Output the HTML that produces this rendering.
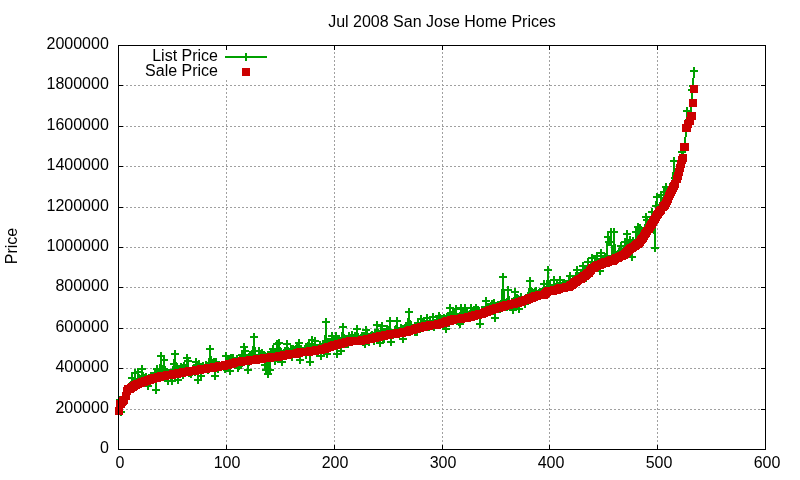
<!DOCTYPE html><html><head><meta charset="utf-8"><style>html,body{margin:0;padding:0;background:#fff;width:800px;height:480px;overflow:hidden;position:relative}svg{display:block;position:absolute;left:0;top:0}div{white-space:nowrap;color:#000;will-change:transform}</style></head><body>
<svg width="800" height="480" viewBox="0 0 800 480" shape-rendering="crispEdges">
<path d="M118,409.5H765M118,368.5H765M118,328.5H765M118,287.5H765M118,247.5H765M118,207.5H765M118,166.5H765M118,126.5H765M118,85.5H765M226.5,450V80M334.5,450V45M442.5,450V45M549.5,450V45M657.5,450V45" stroke="#a0a0a0" stroke-width="1" stroke-dasharray="2,2" fill="none"/>
<path d="M118,449h5v1h-5zM766,449h-5v1h5zM118,409h5v1h-5zM766,409h-5v1h5zM118,368h5v1h-5zM766,368h-5v1h5zM118,328h5v1h-5zM766,328h-5v1h5zM118,287h5v1h-5zM766,287h-5v1h5zM118,247h5v1h-5zM766,247h-5v1h5zM118,207h5v1h-5zM766,207h-5v1h5zM118,166h5v1h-5zM766,166h-5v1h5zM118,126h5v1h-5zM766,126h-5v1h5zM118,85h5v1h-5zM766,85h-5v1h5zM118,45h5v1h-5zM766,45h-5v1h5zM118,450v-5h1v5zM118,45v5h1v-5zM226,450v-5h1v5zM226,45v5h1v-5zM334,450v-5h1v5zM334,45v5h1v-5zM442,450v-5h1v5zM442,45v5h1v-5zM549,450v-5h1v5zM549,45v5h1v-5zM657,450v-5h1v5zM657,45v5h1v-5zM765,450v-5h1v5zM765,45v5h1v-5z" fill="#000"/>
<polyline points="119,411 120,400 121,412 122,402 123,401 124,399 126,395 127,391 128,389 129,388 130,389 131,385 132,378 133,383 134,388 135,373 136,387 137,385 138,372 140,381 141,384 142,369 143,376 144,378 145,379 146,377 147,381 148,386 149,378 150,378 151,376 153,376 154,379 155,374 156,390 157,369 158,376 159,373 160,372 161,356 162,375 163,370 164,360 165,372 167,372 168,381 169,373 170,374 171,377 172,381 173,370 174,364 175,354 176,370 177,369 178,380 179,369 181,367 182,368 183,375 184,366 185,369 186,370 187,358 188,361 189,373 190,371 191,374 192,372 193,369 195,372 196,362 197,365 198,380 199,364 200,369 201,376 202,367 203,366 204,368 205,368 206,365 208,370 209,367 210,349 211,363 212,363 213,365 214,362 215,376 216,362 217,366 218,369 219,367 220,366 222,366 223,366 224,367 225,369 226,356 227,362 228,364 229,364 230,371 231,358 232,359 233,358 234,363 236,362 237,359 238,368 239,366 240,359 241,359 242,355 243,356 244,347 245,351 246,360 247,359 248,370 250,355 251,360 252,354 253,355 254,337 255,355 256,358 257,359 258,360 259,351 260,357 261,355 262,353 264,355 265,365 266,370 267,357 268,374 269,357 270,370 271,352 272,353 273,349 274,352 275,361 277,344 278,359 279,343 280,351 281,352 282,362 283,354 284,353 285,351 286,352 287,344 288,351 289,355 291,349 292,357 293,349 294,353 295,354 296,349 297,347 298,351 299,343 300,360 301,349 302,351 303,351 305,351 306,355 307,351 308,346 309,344 310,362 311,349 312,340 313,347 314,348 315,341 316,350 317,353 319,349 320,345 321,356 322,348 323,344 324,351 325,348 326,322 327,354 328,343 329,342 330,343 332,336 333,341 334,340 335,341 336,336 337,354 338,339 339,339 340,341 341,351 342,338 343,327 344,340 346,344 347,343 348,344 349,336 350,340 351,338 352,335 353,339 354,340 355,336 356,340 357,329 358,337 360,340 361,338 362,336 363,342 364,336 365,344 366,330 367,334 368,340 369,342 370,338 371,336 372,335 374,341 375,333 376,338 377,325 378,333 379,340 380,343 381,331 382,326 383,339 384,339 385,332 387,329 388,335 389,331 390,321 391,342 392,335 393,335 394,333 395,330 396,330 397,321 398,333 399,333 401,328 402,332 403,339 404,329 405,328 406,326 407,330 408,325 409,312 410,328 411,325 412,329 413,330 415,332 416,328 417,332 418,323 419,327 420,326 421,319 422,326 423,324 424,322 425,324 426,325 427,318 429,327 430,321 431,324 432,326 433,317 434,327 435,325 436,324 437,320 438,320 439,316 440,318 442,323 443,320 444,318 445,326 446,329 447,317 448,316 449,323 450,308 451,315 452,315 453,314 454,314 456,309 457,319 458,320 459,322 460,324 461,308 462,314 463,313 464,316 465,308 466,313 467,313 468,315 470,314 471,308 472,317 473,313 474,310 475,311 476,308 477,310 478,310 479,311 480,324 481,315 482,310 484,310 485,313 486,301 487,307 488,308 489,307 490,308 491,307 492,304 493,311 494,303 495,318 496,308 498,305 499,306 500,309 501,304 502,302 503,277 504,301 505,303 506,303 507,307 508,290 509,301 511,306 512,302 513,310 514,307 515,292 516,300 517,298 518,299 519,309 520,301 521,297 522,300 523,301 525,304 526,298 527,299 528,296 529,296 530,281 531,293 532,292 533,293 534,294 535,292 536,291 537,296 539,293 540,292 541,293 542,292 543,291 544,284 545,290 546,293 547,290 548,270 549,288 550,285 551,290 553,290 554,280 555,290 556,290 557,284 558,286 559,288 560,280 561,287 562,289 563,285 564,283 566,284 567,287 568,286 569,281 570,276 571,283 572,287 573,280 574,281 575,280 576,276 577,270 578,277 580,280 581,274 582,273 583,266 584,271 585,271 586,278 587,272 588,262 589,269 590,272 591,265 592,258 594,268 595,263 596,266 597,256 598,263 599,264 600,271 601,253 602,259 603,259 604,262 605,257 606,263 608,237 609,242 610,242 611,232 612,256 613,260 614,232 615,254 616,258 617,257 618,254 619,252 621,246 622,252 623,252 624,251 625,242 626,251 627,234 628,249 629,247 630,240 631,247 632,257 633,241 635,247 636,232 637,242 638,227 639,243 640,228 641,242 642,233 643,232 644,232 645,232 646,217 647,220 649,226 650,223 651,225 652,212 653,222 654,219 655,248 656,206 657,197 658,211 659,209 660,209 661,195 663,203 664,192 665,206 666,187 667,199 668,198 669,194 670,192 671,189 672,190 673,184 674,161 675,178 677,178 678,172 679,170 680,167 681,167 682,152 683,157 684,147 685,146 686,128 687,111 688,122 690,118 691,116 692,90 693,86 694,71" fill="none" stroke="#00a000" stroke-width="2" stroke-linejoin="miter"/>
<path d="M115,411h8M119,407v8M116,400h8M120,396v8M117,412h8M121,408v8M118,402h8M122,398v8M119,401h8M123,397v8M120,399h8M124,395v8M122,395h8M126,391v8M123,391h8M127,387v8M124,389h8M128,385v8M125,388h8M129,384v8M126,389h8M130,385v8M127,385h8M131,381v8M128,378h8M132,374v8M129,383h8M133,379v8M130,388h8M134,384v8M131,373h8M135,369v8M132,387h8M136,383v8M133,385h8M137,381v8M134,372h8M138,368v8M136,381h8M140,377v8M137,384h8M141,380v8M138,369h8M142,365v8M139,376h8M143,372v8M140,378h8M144,374v8M141,379h8M145,375v8M142,377h8M146,373v8M143,381h8M147,377v8M144,386h8M148,382v8M145,378h8M149,374v8M146,378h8M150,374v8M147,376h8M151,372v8M149,376h8M153,372v8M150,379h8M154,375v8M151,374h8M155,370v8M152,390h8M156,386v8M153,369h8M157,365v8M154,376h8M158,372v8M155,373h8M159,369v8M156,372h8M160,368v8M157,356h8M161,352v8M158,375h8M162,371v8M159,370h8M163,366v8M160,360h8M164,356v8M161,372h8M165,368v8M163,372h8M167,368v8M164,381h8M168,377v8M165,373h8M169,369v8M166,374h8M170,370v8M167,377h8M171,373v8M168,381h8M172,377v8M169,370h8M173,366v8M170,364h8M174,360v8M171,354h8M175,350v8M172,370h8M176,366v8M173,369h8M177,365v8M174,380h8M178,376v8M175,369h8M179,365v8M177,367h8M181,363v8M178,368h8M182,364v8M179,375h8M183,371v8M180,366h8M184,362v8M181,369h8M185,365v8M182,370h8M186,366v8M183,358h8M187,354v8M184,361h8M188,357v8M185,373h8M189,369v8M186,371h8M190,367v8M187,374h8M191,370v8M188,372h8M192,368v8M189,369h8M193,365v8M191,372h8M195,368v8M192,362h8M196,358v8M193,365h8M197,361v8M194,380h8M198,376v8M195,364h8M199,360v8M196,369h8M200,365v8M197,376h8M201,372v8M198,367h8M202,363v8M199,366h8M203,362v8M200,368h8M204,364v8M201,368h8M205,364v8M202,365h8M206,361v8M204,370h8M208,366v8M205,367h8M209,363v8M206,349h8M210,345v8M207,363h8M211,359v8M208,363h8M212,359v8M209,365h8M213,361v8M210,362h8M214,358v8M211,376h8M215,372v8M212,362h8M216,358v8M213,366h8M217,362v8M214,369h8M218,365v8M215,367h8M219,363v8M216,366h8M220,362v8M218,366h8M222,362v8M219,366h8M223,362v8M220,367h8M224,363v8M221,369h8M225,365v8M222,356h8M226,352v8M223,362h8M227,358v8M224,364h8M228,360v8M225,364h8M229,360v8M226,371h8M230,367v8M227,358h8M231,354v8M228,359h8M232,355v8M229,358h8M233,354v8M230,363h8M234,359v8M232,362h8M236,358v8M233,359h8M237,355v8M234,368h8M238,364v8M235,366h8M239,362v8M236,359h8M240,355v8M237,359h8M241,355v8M238,355h8M242,351v8M239,356h8M243,352v8M240,347h8M244,343v8M241,351h8M245,347v8M242,360h8M246,356v8M243,359h8M247,355v8M244,370h8M248,366v8M246,355h8M250,351v8M247,360h8M251,356v8M248,354h8M252,350v8M249,355h8M253,351v8M250,337h8M254,333v8M251,355h8M255,351v8M252,358h8M256,354v8M253,359h8M257,355v8M254,360h8M258,356v8M255,351h8M259,347v8M256,357h8M260,353v8M257,355h8M261,351v8M258,353h8M262,349v8M260,355h8M264,351v8M261,365h8M265,361v8M262,370h8M266,366v8M263,357h8M267,353v8M264,374h8M268,370v8M265,357h8M269,353v8M266,370h8M270,366v8M267,352h8M271,348v8M268,353h8M272,349v8M269,349h8M273,345v8M270,352h8M274,348v8M271,361h8M275,357v8M273,344h8M277,340v8M274,359h8M278,355v8M275,343h8M279,339v8M276,351h8M280,347v8M277,352h8M281,348v8M278,362h8M282,358v8M279,354h8M283,350v8M280,353h8M284,349v8M281,351h8M285,347v8M282,352h8M286,348v8M283,344h8M287,340v8M284,351h8M288,347v8M285,355h8M289,351v8M287,349h8M291,345v8M288,357h8M292,353v8M289,349h8M293,345v8M290,353h8M294,349v8M291,354h8M295,350v8M292,349h8M296,345v8M293,347h8M297,343v8M294,351h8M298,347v8M295,343h8M299,339v8M296,360h8M300,356v8M297,349h8M301,345v8M298,351h8M302,347v8M299,351h8M303,347v8M301,351h8M305,347v8M302,355h8M306,351v8M303,351h8M307,347v8M304,346h8M308,342v8M305,344h8M309,340v8M306,362h8M310,358v8M307,349h8M311,345v8M308,340h8M312,336v8M309,347h8M313,343v8M310,348h8M314,344v8M311,341h8M315,337v8M312,350h8M316,346v8M313,353h8M317,349v8M315,349h8M319,345v8M316,345h8M320,341v8M317,356h8M321,352v8M318,348h8M322,344v8M319,344h8M323,340v8M320,351h8M324,347v8M321,348h8M325,344v8M322,322h8M326,318v8M323,354h8M327,350v8M324,343h8M328,339v8M325,342h8M329,338v8M326,343h8M330,339v8M328,336h8M332,332v8M329,341h8M333,337v8M330,340h8M334,336v8M331,341h8M335,337v8M332,336h8M336,332v8M333,354h8M337,350v8M334,339h8M338,335v8M335,339h8M339,335v8M336,341h8M340,337v8M337,351h8M341,347v8M338,338h8M342,334v8M339,327h8M343,323v8M340,340h8M344,336v8M342,344h8M346,340v8M343,343h8M347,339v8M344,344h8M348,340v8M345,336h8M349,332v8M346,340h8M350,336v8M347,338h8M351,334v8M348,335h8M352,331v8M349,339h8M353,335v8M350,340h8M354,336v8M351,336h8M355,332v8M352,340h8M356,336v8M353,329h8M357,325v8M354,337h8M358,333v8M356,340h8M360,336v8M357,338h8M361,334v8M358,336h8M362,332v8M359,342h8M363,338v8M360,336h8M364,332v8M361,344h8M365,340v8M362,330h8M366,326v8M363,334h8M367,330v8M364,340h8M368,336v8M365,342h8M369,338v8M366,338h8M370,334v8M367,336h8M371,332v8M368,335h8M372,331v8M370,341h8M374,337v8M371,333h8M375,329v8M372,338h8M376,334v8M373,325h8M377,321v8M374,333h8M378,329v8M375,340h8M379,336v8M376,343h8M380,339v8M377,331h8M381,327v8M378,326h8M382,322v8M379,339h8M383,335v8M380,339h8M384,335v8M381,332h8M385,328v8M383,329h8M387,325v8M384,335h8M388,331v8M385,331h8M389,327v8M386,321h8M390,317v8M387,342h8M391,338v8M388,335h8M392,331v8M389,335h8M393,331v8M390,333h8M394,329v8M391,330h8M395,326v8M392,330h8M396,326v8M393,321h8M397,317v8M394,333h8M398,329v8M395,333h8M399,329v8M397,328h8M401,324v8M398,332h8M402,328v8M399,339h8M403,335v8M400,329h8M404,325v8M401,328h8M405,324v8M402,326h8M406,322v8M403,330h8M407,326v8M404,325h8M408,321v8M405,312h8M409,308v8M406,328h8M410,324v8M407,325h8M411,321v8M408,329h8M412,325v8M409,330h8M413,326v8M411,332h8M415,328v8M412,328h8M416,324v8M413,332h8M417,328v8M414,323h8M418,319v8M415,327h8M419,323v8M416,326h8M420,322v8M417,319h8M421,315v8M418,326h8M422,322v8M419,324h8M423,320v8M420,322h8M424,318v8M421,324h8M425,320v8M422,325h8M426,321v8M423,318h8M427,314v8M425,327h8M429,323v8M426,321h8M430,317v8M427,324h8M431,320v8M428,326h8M432,322v8M429,317h8M433,313v8M430,327h8M434,323v8M431,325h8M435,321v8M432,324h8M436,320v8M433,320h8M437,316v8M434,320h8M438,316v8M435,316h8M439,312v8M436,318h8M440,314v8M438,323h8M442,319v8M439,320h8M443,316v8M440,318h8M444,314v8M441,326h8M445,322v8M442,329h8M446,325v8M443,317h8M447,313v8M444,316h8M448,312v8M445,323h8M449,319v8M446,308h8M450,304v8M447,315h8M451,311v8M448,315h8M452,311v8M449,314h8M453,310v8M450,314h8M454,310v8M452,309h8M456,305v8M453,319h8M457,315v8M454,320h8M458,316v8M455,322h8M459,318v8M456,324h8M460,320v8M457,308h8M461,304v8M458,314h8M462,310v8M459,313h8M463,309v8M460,316h8M464,312v8M461,308h8M465,304v8M462,313h8M466,309v8M463,313h8M467,309v8M464,315h8M468,311v8M466,314h8M470,310v8M467,308h8M471,304v8M468,317h8M472,313v8M469,313h8M473,309v8M470,310h8M474,306v8M471,311h8M475,307v8M472,308h8M476,304v8M473,310h8M477,306v8M474,310h8M478,306v8M475,311h8M479,307v8M476,324h8M480,320v8M477,315h8M481,311v8M478,310h8M482,306v8M480,310h8M484,306v8M481,313h8M485,309v8M482,301h8M486,297v8M483,307h8M487,303v8M484,308h8M488,304v8M485,307h8M489,303v8M486,308h8M490,304v8M487,307h8M491,303v8M488,304h8M492,300v8M489,311h8M493,307v8M490,303h8M494,299v8M491,318h8M495,314v8M492,308h8M496,304v8M494,305h8M498,301v8M495,306h8M499,302v8M496,309h8M500,305v8M497,304h8M501,300v8M498,302h8M502,298v8M499,277h8M503,273v8M500,301h8M504,297v8M501,303h8M505,299v8M502,303h8M506,299v8M503,307h8M507,303v8M504,290h8M508,286v8M505,301h8M509,297v8M507,306h8M511,302v8M508,302h8M512,298v8M509,310h8M513,306v8M510,307h8M514,303v8M511,292h8M515,288v8M512,300h8M516,296v8M513,298h8M517,294v8M514,299h8M518,295v8M515,309h8M519,305v8M516,301h8M520,297v8M517,297h8M521,293v8M518,300h8M522,296v8M519,301h8M523,297v8M521,304h8M525,300v8M522,298h8M526,294v8M523,299h8M527,295v8M524,296h8M528,292v8M525,296h8M529,292v8M526,281h8M530,277v8M527,293h8M531,289v8M528,292h8M532,288v8M529,293h8M533,289v8M530,294h8M534,290v8M531,292h8M535,288v8M532,291h8M536,287v8M533,296h8M537,292v8M535,293h8M539,289v8M536,292h8M540,288v8M537,293h8M541,289v8M538,292h8M542,288v8M539,291h8M543,287v8M540,284h8M544,280v8M541,290h8M545,286v8M542,293h8M546,289v8M543,290h8M547,286v8M544,270h8M548,266v8M545,288h8M549,284v8M546,285h8M550,281v8M547,290h8M551,286v8M549,290h8M553,286v8M550,280h8M554,276v8M551,290h8M555,286v8M552,290h8M556,286v8M553,284h8M557,280v8M554,286h8M558,282v8M555,288h8M559,284v8M556,280h8M560,276v8M557,287h8M561,283v8M558,289h8M562,285v8M559,285h8M563,281v8M560,283h8M564,279v8M562,284h8M566,280v8M563,287h8M567,283v8M564,286h8M568,282v8M565,281h8M569,277v8M566,276h8M570,272v8M567,283h8M571,279v8M568,287h8M572,283v8M569,280h8M573,276v8M570,281h8M574,277v8M571,280h8M575,276v8M572,276h8M576,272v8M573,270h8M577,266v8M574,277h8M578,273v8M576,280h8M580,276v8M577,274h8M581,270v8M578,273h8M582,269v8M579,266h8M583,262v8M580,271h8M584,267v8M581,271h8M585,267v8M582,278h8M586,274v8M583,272h8M587,268v8M584,262h8M588,258v8M585,269h8M589,265v8M586,272h8M590,268v8M587,265h8M591,261v8M588,258h8M592,254v8M590,268h8M594,264v8M591,263h8M595,259v8M592,266h8M596,262v8M593,256h8M597,252v8M594,263h8M598,259v8M595,264h8M599,260v8M596,271h8M600,267v8M597,253h8M601,249v8M598,259h8M602,255v8M599,259h8M603,255v8M600,262h8M604,258v8M601,257h8M605,253v8M602,263h8M606,259v8M604,237h8M608,233v8M605,242h8M609,238v8M606,242h8M610,238v8M607,232h8M611,228v8M608,256h8M612,252v8M609,260h8M613,256v8M610,232h8M614,228v8M611,254h8M615,250v8M612,258h8M616,254v8M613,257h8M617,253v8M614,254h8M618,250v8M615,252h8M619,248v8M617,246h8M621,242v8M618,252h8M622,248v8M619,252h8M623,248v8M620,251h8M624,247v8M621,242h8M625,238v8M622,251h8M626,247v8M623,234h8M627,230v8M624,249h8M628,245v8M625,247h8M629,243v8M626,240h8M630,236v8M627,247h8M631,243v8M628,257h8M632,253v8M629,241h8M633,237v8M631,247h8M635,243v8M632,232h8M636,228v8M633,242h8M637,238v8M634,227h8M638,223v8M635,243h8M639,239v8M636,228h8M640,224v8M637,242h8M641,238v8M638,233h8M642,229v8M639,232h8M643,228v8M640,232h8M644,228v8M641,232h8M645,228v8M642,217h8M646,213v8M643,220h8M647,216v8M645,226h8M649,222v8M646,223h8M650,219v8M647,225h8M651,221v8M648,212h8M652,208v8M649,222h8M653,218v8M650,219h8M654,215v8M651,248h8M655,244v8M652,206h8M656,202v8M653,197h8M657,193v8M654,211h8M658,207v8M655,209h8M659,205v8M656,209h8M660,205v8M657,195h8M661,191v8M659,203h8M663,199v8M660,192h8M664,188v8M661,206h8M665,202v8M662,187h8M666,183v8M663,199h8M667,195v8M664,198h8M668,194v8M665,194h8M669,190v8M666,192h8M670,188v8M667,189h8M671,185v8M668,190h8M672,186v8M669,184h8M673,180v8M670,161h8M674,157v8M671,178h8M675,174v8M673,178h8M677,174v8M674,172h8M678,168v8M675,170h8M679,166v8M676,167h8M680,163v8M677,167h8M681,163v8M678,152h8M682,148v8M679,157h8M683,153v8M680,147h8M684,143v8M681,146h8M685,142v8M682,128h8M686,124v8M683,111h8M687,107v8M684,122h8M688,118v8M686,118h8M690,114v8M687,116h8M691,112v8M688,90h8M692,86v8M689,86h8M693,82v8M690,71h8M694,67v8" fill="none" stroke="#00a000" stroke-width="2"/>
<path d="M115,407h8v8h-8zM116,400h8v8h-8zM117,400h8v8h-8zM118,398h8v8h-8zM119,397h8v8h-8zM120,396h8v8h-8zM122,392h8v8h-8zM123,387h8v8h-8zM124,385h8v8h-8zM125,385h8v8h-8zM126,385h8v8h-8zM127,384h8v8h-8zM128,383h8v8h-8zM129,383h8v8h-8zM130,382h8v8h-8zM131,381h8v8h-8zM132,381h8v8h-8zM133,380h8v8h-8zM134,380h8v8h-8zM136,379h8v8h-8zM137,379h8v8h-8zM138,378h8v8h-8zM139,378h8v8h-8zM140,378h8v8h-8zM141,377h8v8h-8zM142,377h8v8h-8zM143,377h8v8h-8zM144,376h8v8h-8zM145,376h8v8h-8zM146,376h8v8h-8zM147,375h8v8h-8zM149,375h8v8h-8zM150,374h8v8h-8zM151,374h8v8h-8zM152,374h8v8h-8zM153,374h8v8h-8zM154,373h8v8h-8zM155,373h8v8h-8zM156,373h8v8h-8zM157,372h8v8h-8zM158,372h8v8h-8zM159,372h8v8h-8zM160,372h8v8h-8zM161,372h8v8h-8zM163,371h8v8h-8zM164,371h8v8h-8zM165,371h8v8h-8zM166,371h8v8h-8zM167,371h8v8h-8zM168,371h8v8h-8zM169,370h8v8h-8zM170,370h8v8h-8zM171,370h8v8h-8zM172,370h8v8h-8zM173,370h8v8h-8zM174,369h8v8h-8zM175,369h8v8h-8zM177,369h8v8h-8zM178,369h8v8h-8zM179,368h8v8h-8zM180,368h8v8h-8zM181,368h8v8h-8zM182,368h8v8h-8zM183,368h8v8h-8zM184,368h8v8h-8zM185,367h8v8h-8zM186,367h8v8h-8zM187,367h8v8h-8zM188,367h8v8h-8zM189,367h8v8h-8zM191,367h8v8h-8zM192,366h8v8h-8zM193,366h8v8h-8zM194,366h8v8h-8zM195,366h8v8h-8zM196,366h8v8h-8zM197,365h8v8h-8zM198,365h8v8h-8zM199,365h8v8h-8zM200,365h8v8h-8zM201,365h8v8h-8zM202,365h8v8h-8zM204,364h8v8h-8zM205,364h8v8h-8zM206,364h8v8h-8zM207,364h8v8h-8zM208,364h8v8h-8zM209,364h8v8h-8zM210,363h8v8h-8zM211,363h8v8h-8zM212,363h8v8h-8zM213,363h8v8h-8zM214,363h8v8h-8zM215,362h8v8h-8zM216,362h8v8h-8zM218,362h8v8h-8zM219,362h8v8h-8zM220,362h8v8h-8zM221,361h8v8h-8zM222,361h8v8h-8zM223,361h8v8h-8zM224,361h8v8h-8zM225,360h8v8h-8zM226,360h8v8h-8zM227,360h8v8h-8zM228,360h8v8h-8zM229,359h8v8h-8zM230,359h8v8h-8zM232,358h8v8h-8zM233,358h8v8h-8zM234,358h8v8h-8zM235,358h8v8h-8zM236,358h8v8h-8zM237,358h8v8h-8zM238,357h8v8h-8zM239,357h8v8h-8zM240,357h8v8h-8zM241,357h8v8h-8zM242,357h8v8h-8zM243,357h8v8h-8zM244,357h8v8h-8zM246,356h8v8h-8zM247,356h8v8h-8zM248,356h8v8h-8zM249,356h8v8h-8zM250,356h8v8h-8zM251,356h8v8h-8zM252,356h8v8h-8zM253,355h8v8h-8zM254,355h8v8h-8zM255,355h8v8h-8zM256,355h8v8h-8zM257,355h8v8h-8zM258,355h8v8h-8zM260,354h8v8h-8zM261,354h8v8h-8zM262,354h8v8h-8zM263,354h8v8h-8zM264,354h8v8h-8zM265,354h8v8h-8zM266,354h8v8h-8zM267,353h8v8h-8zM268,353h8v8h-8zM269,353h8v8h-8zM270,353h8v8h-8zM271,353h8v8h-8zM273,353h8v8h-8zM274,353h8v8h-8zM275,352h8v8h-8zM276,352h8v8h-8zM277,352h8v8h-8zM278,352h8v8h-8zM279,352h8v8h-8zM280,351h8v8h-8zM281,351h8v8h-8zM282,351h8v8h-8zM283,351h8v8h-8zM284,351h8v8h-8zM285,350h8v8h-8zM287,350h8v8h-8zM288,350h8v8h-8zM289,350h8v8h-8zM290,350h8v8h-8zM291,350h8v8h-8zM292,350h8v8h-8zM293,349h8v8h-8zM294,349h8v8h-8zM295,349h8v8h-8zM296,348h8v8h-8zM297,348h8v8h-8zM298,348h8v8h-8zM299,348h8v8h-8zM301,348h8v8h-8zM302,348h8v8h-8zM303,348h8v8h-8zM304,348h8v8h-8zM305,348h8v8h-8zM306,347h8v8h-8zM307,347h8v8h-8zM308,347h8v8h-8zM309,347h8v8h-8zM310,347h8v8h-8zM311,347h8v8h-8zM312,346h8v8h-8zM313,346h8v8h-8zM315,346h8v8h-8zM316,346h8v8h-8zM317,346h8v8h-8zM318,345h8v8h-8zM319,345h8v8h-8zM320,345h8v8h-8zM321,345h8v8h-8zM322,344h8v8h-8zM323,344h8v8h-8zM324,343h8v8h-8zM325,343h8v8h-8zM326,343h8v8h-8zM328,342h8v8h-8zM329,342h8v8h-8zM330,341h8v8h-8zM331,341h8v8h-8zM332,341h8v8h-8zM333,341h8v8h-8zM334,340h8v8h-8zM335,340h8v8h-8zM336,340h8v8h-8zM337,340h8v8h-8zM338,339h8v8h-8zM339,339h8v8h-8zM340,339h8v8h-8zM342,338h8v8h-8zM343,338h8v8h-8zM344,338h8v8h-8zM345,338h8v8h-8zM346,337h8v8h-8zM347,337h8v8h-8zM348,337h8v8h-8zM349,337h8v8h-8zM350,337h8v8h-8zM351,337h8v8h-8zM352,337h8v8h-8zM353,337h8v8h-8zM354,337h8v8h-8zM356,337h8v8h-8zM357,337h8v8h-8zM358,336h8v8h-8zM359,336h8v8h-8zM360,336h8v8h-8zM361,336h8v8h-8zM362,336h8v8h-8zM363,335h8v8h-8zM364,335h8v8h-8zM365,335h8v8h-8zM366,335h8v8h-8zM367,335h8v8h-8zM368,334h8v8h-8zM370,334h8v8h-8zM371,334h8v8h-8zM372,333h8v8h-8zM373,333h8v8h-8zM374,333h8v8h-8zM375,333h8v8h-8zM376,332h8v8h-8zM377,332h8v8h-8zM378,332h8v8h-8zM379,332h8v8h-8zM380,332h8v8h-8zM381,331h8v8h-8zM383,331h8v8h-8zM384,331h8v8h-8zM385,331h8v8h-8zM386,330h8v8h-8zM387,330h8v8h-8zM388,330h8v8h-8zM389,330h8v8h-8zM390,330h8v8h-8zM391,330h8v8h-8zM392,330h8v8h-8zM393,329h8v8h-8zM394,329h8v8h-8zM395,329h8v8h-8zM397,329h8v8h-8zM398,329h8v8h-8zM399,328h8v8h-8zM400,328h8v8h-8zM401,328h8v8h-8zM402,328h8v8h-8zM403,328h8v8h-8zM404,327h8v8h-8zM405,327h8v8h-8zM406,326h8v8h-8zM407,326h8v8h-8zM408,326h8v8h-8zM409,326h8v8h-8zM411,325h8v8h-8zM412,325h8v8h-8zM413,324h8v8h-8zM414,324h8v8h-8zM415,324h8v8h-8zM416,324h8v8h-8zM417,323h8v8h-8zM418,323h8v8h-8zM419,323h8v8h-8zM420,323h8v8h-8zM421,322h8v8h-8zM422,322h8v8h-8zM423,322h8v8h-8zM425,322h8v8h-8zM426,321h8v8h-8zM427,321h8v8h-8zM428,321h8v8h-8zM429,321h8v8h-8zM430,321h8v8h-8zM431,321h8v8h-8zM432,321h8v8h-8zM433,321h8v8h-8zM434,320h8v8h-8zM435,320h8v8h-8zM436,320h8v8h-8zM438,319h8v8h-8zM439,319h8v8h-8zM440,319h8v8h-8zM441,318h8v8h-8zM442,318h8v8h-8zM443,317h8v8h-8zM444,317h8v8h-8zM445,317h8v8h-8zM446,317h8v8h-8zM447,316h8v8h-8zM448,316h8v8h-8zM449,316h8v8h-8zM450,315h8v8h-8zM452,315h8v8h-8zM453,315h8v8h-8zM454,315h8v8h-8zM455,315h8v8h-8zM456,315h8v8h-8zM457,315h8v8h-8zM458,314h8v8h-8zM459,314h8v8h-8zM460,314h8v8h-8zM461,314h8v8h-8zM462,314h8v8h-8zM463,314h8v8h-8zM464,313h8v8h-8zM466,313h8v8h-8zM467,313h8v8h-8zM468,312h8v8h-8zM469,312h8v8h-8zM470,312h8v8h-8zM471,311h8v8h-8zM472,311h8v8h-8zM473,311h8v8h-8zM474,311h8v8h-8zM475,310h8v8h-8zM476,310h8v8h-8zM477,310h8v8h-8zM478,310h8v8h-8zM480,309h8v8h-8zM481,308h8v8h-8zM482,308h8v8h-8zM483,308h8v8h-8zM484,307h8v8h-8zM485,307h8v8h-8zM486,306h8v8h-8zM487,306h8v8h-8zM488,306h8v8h-8zM489,305h8v8h-8zM490,305h8v8h-8zM491,305h8v8h-8zM492,304h8v8h-8zM494,304h8v8h-8zM495,304h8v8h-8zM496,303h8v8h-8zM497,303h8v8h-8zM498,303h8v8h-8zM499,302h8v8h-8zM500,302h8v8h-8zM501,302h8v8h-8zM502,301h8v8h-8zM503,301h8v8h-8zM504,301h8v8h-8zM505,301h8v8h-8zM507,300h8v8h-8zM508,300h8v8h-8zM509,300h8v8h-8zM510,300h8v8h-8zM511,299h8v8h-8zM512,299h8v8h-8zM513,299h8v8h-8zM514,299h8v8h-8zM515,298h8v8h-8zM516,298h8v8h-8zM517,298h8v8h-8zM518,297h8v8h-8zM519,297h8v8h-8zM521,296h8v8h-8zM522,296h8v8h-8zM523,296h8v8h-8zM524,295h8v8h-8zM525,295h8v8h-8zM526,294h8v8h-8zM527,294h8v8h-8zM528,294h8v8h-8zM529,293h8v8h-8zM530,293h8v8h-8zM531,292h8v8h-8zM532,292h8v8h-8zM533,292h8v8h-8zM535,291h8v8h-8zM536,291h8v8h-8zM537,291h8v8h-8zM538,291h8v8h-8zM539,291h8v8h-8zM540,291h8v8h-8zM541,290h8v8h-8zM542,289h8v8h-8zM543,288h8v8h-8zM544,287h8v8h-8zM545,287h8v8h-8zM546,287h8v8h-8zM547,287h8v8h-8zM549,287h8v8h-8zM550,286h8v8h-8zM551,286h8v8h-8zM552,286h8v8h-8zM553,286h8v8h-8zM554,285h8v8h-8zM555,285h8v8h-8zM556,284h8v8h-8zM557,284h8v8h-8zM558,284h8v8h-8zM559,284h8v8h-8zM560,284h8v8h-8zM562,283h8v8h-8zM563,283h8v8h-8zM564,283h8v8h-8zM565,283h8v8h-8zM566,282h8v8h-8zM567,281h8v8h-8zM568,281h8v8h-8zM569,280h8v8h-8zM570,279h8v8h-8zM571,278h8v8h-8zM572,278h8v8h-8zM573,277h8v8h-8zM574,276h8v8h-8zM576,275h8v8h-8zM577,275h8v8h-8zM578,274h8v8h-8zM579,273h8v8h-8zM580,272h8v8h-8zM581,272h8v8h-8zM582,271h8v8h-8zM583,270h8v8h-8zM584,269h8v8h-8zM585,269h8v8h-8zM586,267h8v8h-8zM587,266h8v8h-8zM588,264h8v8h-8zM590,264h8v8h-8zM591,263h8v8h-8zM592,262h8v8h-8zM593,262h8v8h-8zM594,261h8v8h-8zM595,261h8v8h-8zM596,261h8v8h-8zM597,260h8v8h-8zM598,260h8v8h-8zM599,259h8v8h-8zM600,259h8v8h-8zM601,258h8v8h-8zM602,259h8v8h-8zM604,258h8v8h-8zM605,257h8v8h-8zM606,257h8v8h-8zM607,256h8v8h-8zM608,257h8v8h-8zM609,257h8v8h-8zM610,256h8v8h-8zM611,255h8v8h-8zM612,254h8v8h-8zM613,254h8v8h-8zM614,254h8v8h-8zM615,253h8v8h-8zM617,252h8v8h-8zM618,252h8v8h-8zM619,251h8v8h-8zM620,251h8v8h-8zM621,250h8v8h-8zM622,249h8v8h-8zM623,248h8v8h-8zM624,247h8v8h-8zM625,246h8v8h-8zM626,245h8v8h-8zM627,244h8v8h-8zM628,244h8v8h-8zM629,243h8v8h-8zM631,242h8v8h-8zM632,241h8v8h-8zM633,240h8v8h-8zM634,240h8v8h-8zM635,239h8v8h-8zM636,238h8v8h-8zM637,236h8v8h-8zM638,235h8v8h-8zM639,234h8v8h-8zM640,232h8v8h-8zM641,230h8v8h-8zM642,229h8v8h-8zM643,227h8v8h-8zM645,225h8v8h-8zM646,223h8v8h-8zM647,221h8v8h-8zM648,220h8v8h-8zM649,218h8v8h-8zM650,216h8v8h-8zM651,215h8v8h-8zM652,213h8v8h-8zM653,211h8v8h-8zM654,210h8v8h-8zM655,208h8v8h-8zM656,207h8v8h-8zM657,206h8v8h-8zM659,203h8v8h-8zM660,202h8v8h-8zM661,201h8v8h-8zM662,199h8v8h-8zM663,197h8v8h-8zM664,195h8v8h-8zM665,192h8v8h-8zM666,190h8v8h-8zM667,188h8v8h-8zM668,186h8v8h-8zM669,184h8v8h-8zM670,182h8v8h-8zM671,180h8v8h-8zM673,175h8v8h-8zM674,172h8v8h-8zM675,168h8v8h-8zM676,164h8v8h-8zM677,160h8v8h-8zM678,156h8v8h-8zM679,154h8v8h-8zM680,143h8v8h-8zM681,143h8v8h-8zM682,124h8v8h-8zM683,124h8v8h-8zM684,120h8v8h-8zM686,117h8v8h-8zM687,112h8v8h-8zM688,112h8v8h-8zM689,99h8v8h-8zM690,85h8v8h-8z" fill="#cc0000"/>
<rect x="118.5" y="45.5" width="647" height="404" fill="none" stroke="#000" stroke-width="1"/>
<path d="M225,57H267M246,53V61" stroke="#00a000" stroke-width="2" fill="none"/>
<rect x="242" y="68" width="8" height="8" fill="#cc0000"/>
</svg>
<div style="font:16px 'Liberation Sans',sans-serif;line-height:18px;position:absolute;left:0;width:108.8px;text-align:right;top:439.0px">0</div>
<div style="font:16px 'Liberation Sans',sans-serif;line-height:18px;position:absolute;left:0;width:108.8px;text-align:right;top:398.6px">200000</div>
<div style="font:16px 'Liberation Sans',sans-serif;line-height:18px;position:absolute;left:0;width:108.8px;text-align:right;top:358.2px">400000</div>
<div style="font:16px 'Liberation Sans',sans-serif;line-height:18px;position:absolute;left:0;width:108.8px;text-align:right;top:317.8px">600000</div>
<div style="font:16px 'Liberation Sans',sans-serif;line-height:18px;position:absolute;left:0;width:108.8px;text-align:right;top:277.4px">800000</div>
<div style="font:16px 'Liberation Sans',sans-serif;line-height:18px;position:absolute;left:0;width:108.8px;text-align:right;top:237.0px">1000000</div>
<div style="font:16px 'Liberation Sans',sans-serif;line-height:18px;position:absolute;left:0;width:108.8px;text-align:right;top:196.6px">1200000</div>
<div style="font:16px 'Liberation Sans',sans-serif;line-height:18px;position:absolute;left:0;width:108.8px;text-align:right;top:156.2px">1400000</div>
<div style="font:16px 'Liberation Sans',sans-serif;line-height:18px;position:absolute;left:0;width:108.8px;text-align:right;top:115.8px">1600000</div>
<div style="font:16px 'Liberation Sans',sans-serif;line-height:18px;position:absolute;left:0;width:108.8px;text-align:right;top:75.4px">1800000</div>
<div style="font:16px 'Liberation Sans',sans-serif;line-height:18px;position:absolute;left:0;width:108.8px;text-align:right;top:35.0px">2000000</div>
<div style="font:16px 'Liberation Sans',sans-serif;line-height:18px;position:absolute;left:69.5px;width:100px;text-align:center;top:454.2px">0</div>
<div style="font:16px 'Liberation Sans',sans-serif;line-height:18px;position:absolute;left:177.3px;width:100px;text-align:center;top:454.2px">100</div>
<div style="font:16px 'Liberation Sans',sans-serif;line-height:18px;position:absolute;left:285.2px;width:100px;text-align:center;top:454.2px">200</div>
<div style="font:16px 'Liberation Sans',sans-serif;line-height:18px;position:absolute;left:393.0px;width:100px;text-align:center;top:454.2px">300</div>
<div style="font:16px 'Liberation Sans',sans-serif;line-height:18px;position:absolute;left:500.8px;width:100px;text-align:center;top:454.2px">400</div>
<div style="font:16px 'Liberation Sans',sans-serif;line-height:18px;position:absolute;left:608.7px;width:100px;text-align:center;top:454.2px">500</div>
<div style="font:16px 'Liberation Sans',sans-serif;line-height:18px;position:absolute;left:716.5px;width:100px;text-align:center;top:454.2px">600</div>
<div style="font:16px 'Liberation Sans',sans-serif;line-height:18px;position:absolute;left:241.7px;width:400px;text-align:center;top:13px">Jul 2008 San Jose Home Prices</div>
<div style="font:16px 'Liberation Sans',sans-serif;line-height:18px;position:absolute;left:-18px;top:237px;width:60px;text-align:center;transform:rotate(-90deg)">Price</div>
<div style="font:16px 'Liberation Sans',sans-serif;line-height:18px;position:absolute;left:0.8px;width:217px;text-align:right;top:47px">List Price</div>
<div style="font:16px 'Liberation Sans',sans-serif;line-height:18px;position:absolute;left:0.8px;width:217px;text-align:right;top:62px">Sale Price</div>
</body></html>
